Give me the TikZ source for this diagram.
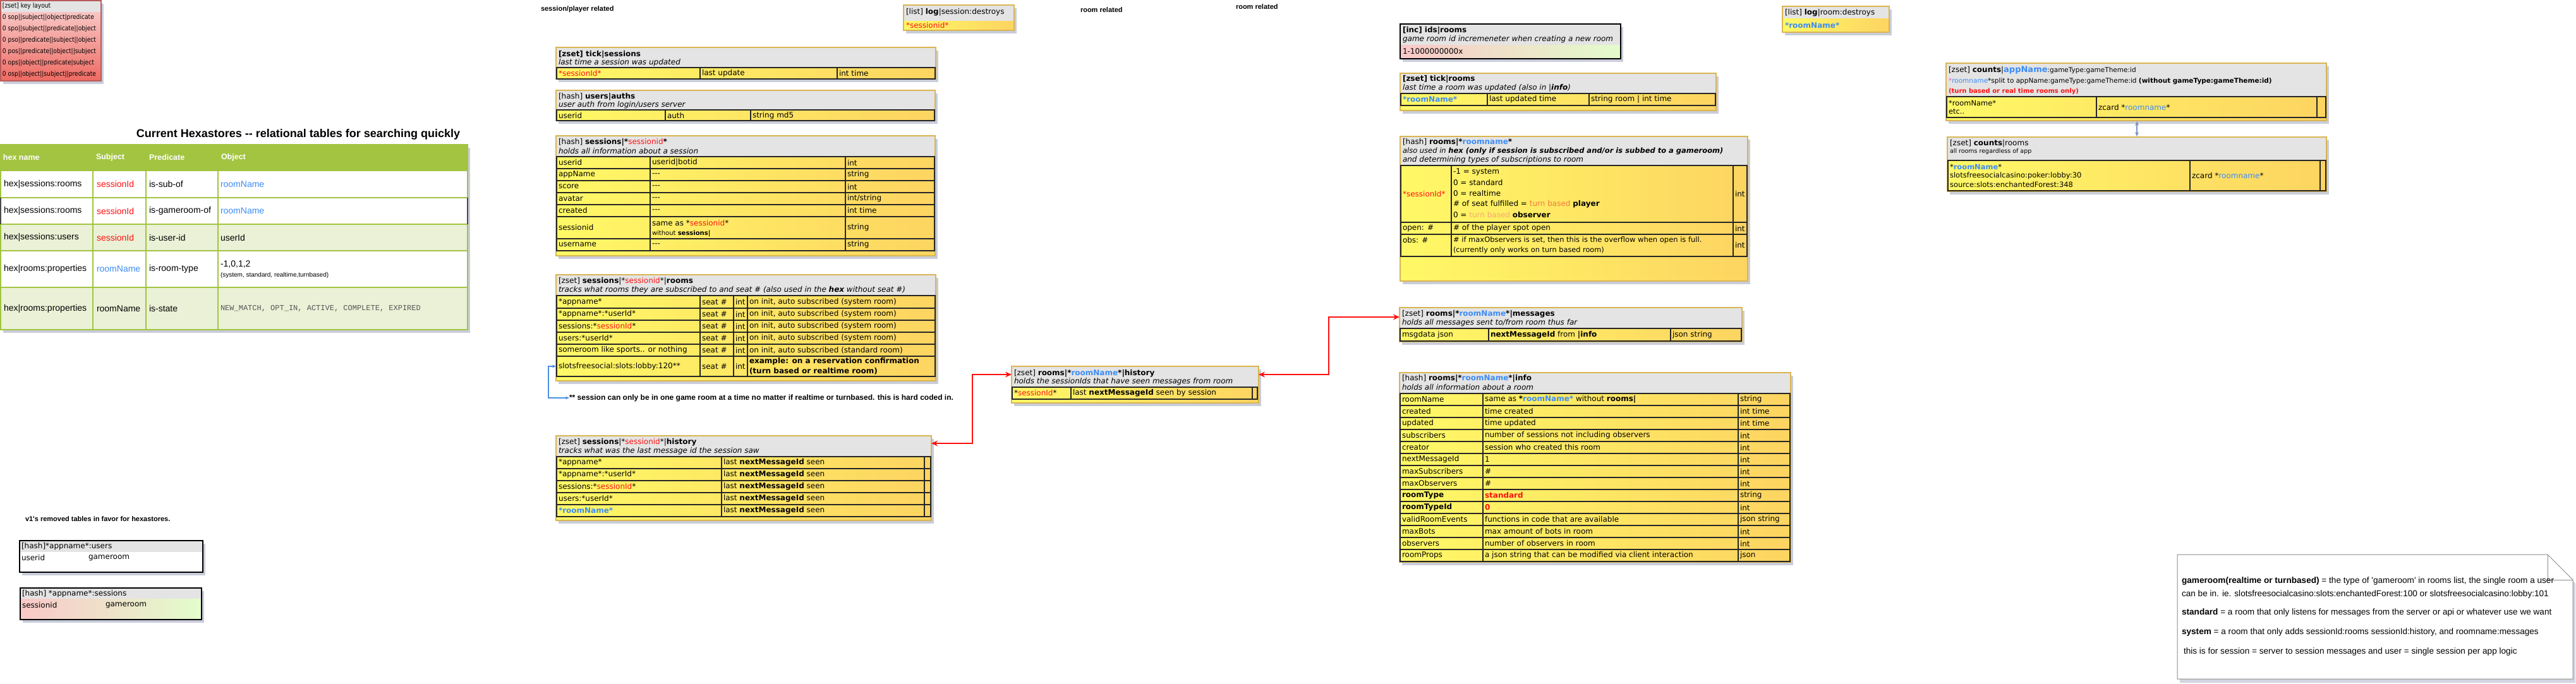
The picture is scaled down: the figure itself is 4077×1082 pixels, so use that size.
\documentclass[tikz,border=0pt]{standalone}
\usepackage{fontspec}
\usetikzlibrary{arrows.meta,shadows,calc}
\newfontfamily\dv{DejaVu Sans}
\newfontfamily\dvn[FakeStretch=0.88]{DejaVu Sans}
\newfontfamily\hv{Liberation Sans}
\newfontfamily\mono{Liberation Mono}
\newcommand\fsz[1]{\fontsize{#1}{#1}\selectfont}
\definecolor{hdr}{HTML}{E4E4E4}
\definecolor{ylA}{HTML}{FFF966}
\definecolor{ylB}{HTML}{FDD461}
\definecolor{gold}{HTML}{D9B552}
\definecolor{rd}{HTML}{FF1010}
\definecolor{bl}{HTML}{3C8CF6}
\definecolor{grn}{HTML}{A2C441}
\definecolor{grnL}{HTML}{EAF1D6}
\definecolor{shd}{HTML}{A6ACC2}
\definecolor{klA}{HTML}{F8C6C4}
\definecolor{klB}{HTML}{EE6A62}
\definecolor{klbd}{HTML}{B85A5A}
\definecolor{pkA}{HTML}{FAC8C8}
\definecolor{gnA}{HTML}{E2FDCB}
\definecolor{orgA}{HTML}{F47A3A}
\definecolor{orgB}{HTML}{F6A870}
\definecolor{pkC}{HTML}{F060C0}
\definecolor{blc}{HTML}{4A90E2}
\definecolor{gyc}{HTML}{7A92C2}
\definecolor{monoc}{HTML}{555555}
\tikzset{
  frame/.style={rectangle, draw=gold, fill=hdr, line width=1.5pt, inner sep=0pt, outer sep=0pt, anchor=north west,
    drop shadow={shadow xshift=4pt, shadow yshift=-5pt, fill=shd, opacity=0.6}},
  txt/.style={anchor=west, inner sep=0pt, outer sep=0pt, font=\dv\fsz{12}},
  klt/.style={anchor=west, inner sep=0pt, outer sep=0pt, font=\dvn\fsz{10.4}},
  hxc/.style={anchor=west, inner sep=0pt, outer sep=0pt, font=\hv\fsz{14}},
  hxh/.style={anchor=west, inner sep=0pt, outer sep=0pt, font=\hv\bfseries\fsz{12.5}, text=white},
  cg/.style={draw=black!85, line width=1.3pt},
  gl/.style={draw=grn, line width=1.5pt},
  lbl/.style={anchor=west, inner sep=0pt, outer sep=0pt, font=\hv\bfseries\fsz{11}},
  ntx/.style={anchor=west, inner sep=0pt, outer sep=0pt, font=\hv\fsz{13.6}},
  redc/.style={draw=rd, line width=1.6pt, {Stealth[length=10pt,width=9pt]}-{Stealth[length=10pt,width=9pt]}},
  bluec/.style={draw=blc, line width=1.2pt, {Stealth[length=6pt,width=5pt]}-{Stealth[length=6pt,width=5pt]}},
  grayc/.style={draw=gyc, line width=1.6pt, {Stealth[length=7pt,width=6pt]}-{Stealth[length=7pt,width=6pt]}}
}
\newcommand\cel[4][]{\node[txt,#1] (#2) at (#3) {#4};}
\newcommand\mkbox[6]{%
  \node[frame, minimum width={#4-#2}, minimum height={#5-#3}] (#1) at (#2,#3) {};
  \shade[left color=ylA, right color=ylB] (#2,#6) rectangle (#4,#5);
  \draw[gold, line width=1.5pt] (#2,#3) rectangle (#4,#5);
}
\begin{document}
\begin{tikzpicture}[x=1pt,y=-1pt]
\useasboundingbox (0,0) rectangle (4077,1082);
\fill[white] (0,0) rectangle (4077,1082);

% ---------- key layout ----------
\node[frame, draw=klbd, line width=1.2pt, minimum width=159, minimum height=127] (kl) at (1,1) {};
\shade[top color=klA, bottom color=klB] (1,19) rectangle (160,128);
\draw[klbd, line width=1.2pt] (1,1) rectangle (160,128);
\node[klt] (kl0) at (4,10) {[zset] key layout};
\node[klt] (kl1) at (4,28) {0 sop||subject||object|predicate};
\node[klt] (kl2) at (4,46) {0 spo||subject||predicate||object};
\node[klt] (kl3) at (4,64) {0 pso||predicate||subject||object};
\node[klt] (kl4) at (4,82) {0 pos||predicate||object||subject};
\node[klt] (kl5) at (4,100) {0 ops||object||predicate|subject};
\node[klt] (kl6) at (4,118) {0 osp||object||subject||predicate};

% ---------- hexastore table ----------
\node[anchor=center, inner sep=0pt, font=\hv\bfseries\fsz{18}] (hxt) at (472,213) {Current Hexastores -{}- relational tables for searching quickly};
\node[rectangle, draw=grn, fill=white, line width=2pt, inner sep=0pt, outer sep=0pt, anchor=north west,
  minimum width=739, minimum height=293, drop shadow={shadow xshift=4pt, shadow yshift=-5pt, fill=shd, opacity=0.6}] (hx) at (1,229) {};
\fill[grn] (1,229) rectangle (740,270);
\fill[grnL] (1,355) rectangle (740,397);
\fill[grnL] (1,455) rectangle (740,522);
\foreach \yy in {270,313,355,397,455} \draw[gl] (1,\yy) -- (740,\yy);
\foreach \xx in {147,231,345} \draw[gl] (\xx,229) -- (\xx,522);
\draw[grn, line width=2pt] (1,229) rectangle (740,522);
\draw[black!70, line width=1.3pt] (1,313) -- (1,355) (740,313) -- (740,355);
\node[hxh] (hh1) at (5,249.5) {hex name};
\node[hxh] (hh2) at (152,249.5) {Subject};
\node[hxh] (hh3) at (236,249.5) {Predicate};
\node[hxh] (hh4) at (350,249.5) {Object};
\node[hxc] (h11) at (6,291.5) {hex|sessions:rooms};
\node[hxc, text=rd] (h12) at (153,291.5) {sessionId};
\node[hxc] (h13) at (236,291.5) {is-sub-of};
\node[hxc, text=bl] (h14) at (349,291.5) {roomName};
\node[hxc] (h21) at (6,334) {hex|sessions:rooms};
\node[hxc, text=rd] (h22) at (153,334) {sessionId};
\node[hxc] (h23) at (236,334) {is-gameroom-of};
\node[hxc, text=bl] (h24) at (349,334) {roomName};
\node[hxc] (h31) at (6,376) {hex|sessions:users};
\node[hxc, text=rd] (h32) at (153,376) {sessionId};
\node[hxc] (h33) at (236,376) {is-user-id};
\node[hxc] (h34) at (349,376) {userId};
\node[hxc] (h41) at (6,426) {hex|rooms:properties};
\node[hxc, text=bl] (h42) at (153,426) {roomName};
\node[hxc] (h43) at (236,426) {is-room-type};
\node[hxc] (h44) at (349,419) {-1,0,1,2};
\node[hxc, font=\hv\fsz{10}] (h45) at (349,436) {(system, standard, realtime,turnbased)};
\node[hxc] (h51) at (6,488.5) {hex|rooms:properties};
\node[hxc] (h52) at (153,488.5) {roomName};
\node[hxc] (h53) at (236,488.5) {is-state};
\node[hxc, font=\mono\fsz{12}, text=monoc] (h54) at (349,488.5) {NEW\_MATCH, OPT\_IN, ACTIVE, COMPLETE, EXPIRED};

% ---------- labels ----------
\node[lbl] (lb1) at (856,15) {session/player related};
\node[lbl] (lb2) at (1710,16) {room related};
\node[lbl] (lb3) at (1956,11) {room related};

% ---------- log session destroys ----------
\mkbox{lS}{1430}{8}{1605}{48}{33}
\cel{lS1}{1434,19}{[list] \textbf{log}|session:destroys}
\cel{lS2}{1434,40}{\color{rd}*sessionid*}

% ---------- tick sessions ----------
\mkbox{tS}{880}{75}{1481}{125}{107}
\draw[cg] (881,107) rectangle (1480,125);
\draw[cg] (1108,107) -- (1108,125) (1325,107) -- (1325,125);
\cel{tS1}{884,86}{\bfseries [zset] tick|sessions}
\cel{tS2}{884,99}{\itshape last time a session was updated}
\cel{tS3}{884,116}{\color{rd}*sessionId*}
\cel{tS4}{1111,116}{last update}
\cel{tS5}{1328,116}{int time}

% ---------- users auths ----------
\mkbox{uA}{880}{143}{1480}{191}{174}
\draw[cg] (881,174) rectangle (1479,191);
\draw[cg] (1053,174) -- (1053,191) (1188,174) -- (1188,191);
\cel{uA1}{884,153}{[hash] \textbf{users|auths}}
\cel{uA2}{884,166}{\itshape user auth from login/users server}
\cel{uA3}{884,183}{userid}
\cel{uA4}{1056,183}{auth}
\cel{uA5}{1191,183}{string md5}

% ---------- sessions hash ----------
\mkbox{sH}{880}{215}{1480}{405}{248}
\draw[cg] (881,248) rectangle (1479,397);
\foreach \yy in {267,286,305,324,343,378} \draw[cg] (881,\yy) -- (1479,\yy);
\draw[cg] (1029,248) -- (1029,397) (1338,248) -- (1338,397);
\cel{sH1}{884,225}{[hash] \textbf{sessions|*}{\color{rd}sessionid}\textbf{*}}
\cel{sH2}{884,239}{\itshape holds all information about a session}
\cel{sHa1}{884,257.5}{userid}
\cel{sHa2}{1032,257.5}{userid|botid}
\cel{sHa3}{1341,257.5}{int}
\cel{sHb1}{884,276.5}{appName}
\cel{sHb2}{1032,276.5}{-{}-{}-}
\cel{sHb3}{1341,276.5}{string}
\cel{sHc1}{884,295.5}{score}
\cel{sHc2}{1032,295.5}{-{}-{}-}
\cel{sHc3}{1341,295.5}{int}
\cel{sHd1}{884,314.5}{avatar}
\cel{sHd2}{1032,314.5}{-{}-{}-}
\cel{sHd3}{1341,314.5}{int/string}
\cel{sHe1}{884,333.5}{created}
\cel{sHe2}{1032,333.5}{-{}-{}-}
\cel{sHe3}{1341,333.5}{int time}
\cel{sHf1}{884,360.5}{sessionid}
\cel{sHf2}{1032,353}{same as *{\color{rd}sessionid}*}
\cel[font=\dv\fsz{10}]{sHf3}{1032,370}{without \textbf{sessions|}}
\cel{sHf4}{1341,360.5}{string}
\cel{sHg1}{884,387.5}{username}
\cel{sHg2}{1032,387.5}{-{}-{}-}
\cel{sHg3}{1341,387.5}{string}

% ---------- sessions rooms ----------
\mkbox{sR}{880}{435}{1481}{603}{468}
\draw[cg] (881,468) rectangle (1480,596);
\foreach \yy in {488,507,526,545,564} \draw[cg] (881,\yy) -- (1480,\yy);
\draw[cg] (1108,468) -- (1108,596) (1161,468) -- (1161,596) (1183,468) -- (1183,596);
\cel{sR1}{884,445}{[zset] \textbf{sessions}|*{\color{rd}sessionid}*|\textbf{rooms}}
\cel{sR2}{884,459}{\itshape tracks what rooms they are subscribed to and seat \# (also used in the \textbf{hex} without seat \#)}
\cel{sRa1}{884,478}{*appname*}
\cel{sRa2}{1111,478}{seat \#}
\cel{sRa3}{1164,478}{int}
\cel{sRa4}{1186,478}{on init, auto subscribed (system room)}
\cel{sRb1}{884,497.5}{*appname*:*userId*}
\cel{sRb2}{1111,497.5}{seat \#}
\cel{sRb3}{1164,497.5}{int}
\cel{sRb4}{1186,497.5}{on init, auto subscribed (system room)}
\cel{sRc1}{884,516.5}{sessions:*{\color{rd}sessionId}*}
\cel{sRc2}{1111,516.5}{seat \#}
\cel{sRc3}{1164,516.5}{int}
\cel{sRc4}{1186,516.5}{on init, auto subscribed (system room)}
\cel{sRd1}{884,535.5}{users:*userId*}
\cel{sRd2}{1111,535.5}{seat \#}
\cel{sRd3}{1164,535.5}{int}
\cel{sRd4}{1186,535.5}{on init, auto subscribed (system room)}
\cel{sRe1}{884,554.5}{someroom like sports.. or nothing}
\cel{sRe2}{1111,554.5}{seat \#}
\cel{sRe3}{1164,554.5}{int}
\cel{sRe4}{1186,554.5}{on init, auto subscribed (standard room)}
\cel{sRf1}{884,580}{slotsfreesocial:slots:lobby:120**}
\cel{sRf2}{1111,580}{seat \#}
\cel{sRf3}{1164,580}{int}
\cel{sRf4}{1186,572}{\bfseries example: on a reservation confirmation}
\cel{sRf5}{1186,588}{\bfseries (turn based or realtime room)}

% note + blue connector
\node[lbl, font=\hv\bfseries\fsz{12}] (nt) at (901,630) {** session can only be in one game room at a time no matter if realtime or turnbased. this is hard coded in.};
\draw[bluec] (nt.west) -- ++(-33,0) |- ($(sR.south west)+(0,-23)$);

% ---------- sessions history ----------
\mkbox{hS}{880}{690}{1474}{824}{723}
\draw[cg] (881,723) rectangle (1473,818);
\foreach \yy in {742,761,780,799} \draw[cg] (881,\yy) -- (1473,\yy);
\draw[cg] (1142,723) -- (1142,818) (1463,723) -- (1463,818);
\cel{hS1}{884,700}{[zset] \textbf{sessions}|*{\color{rd}sessionid}*|\textbf{history}}
\cel{hS2}{884,714}{\itshape tracks what was the last message id the session saw}
\cel{hSa1}{884,732.5}{*appname*}
\cel{hSa2}{1145,732.5}{last \textbf{nextMessageId} seen}
\cel{hSb1}{884,751.5}{*appname*:*userId*}
\cel{hSb2}{1145,751.5}{last \textbf{nextMessageId} seen}
\cel{hSc1}{884,770.5}{sessions:*{\color{rd}sessionId}*}
\cel{hSc2}{1145,770.5}{last \textbf{nextMessageId} seen}
\cel{hSd1}{884,789.5}{users:*userId*}
\cel{hSd2}{1145,789.5}{last \textbf{nextMessageId} seen}
\cel{hSe1}{884,808.5}{\color{bl}\bfseries *roomName*}
\cel{hSe2}{1145,808.5}{last \textbf{nextMessageId} seen}

% ---------- rooms history ----------
\mkbox{rH}{1601}{580}{1992}{638}{613}
\draw[cg] (1602,613) rectangle (1990,632);
\draw[cg] (1695,613) -- (1695,632) (1982,613) -- (1982,632);
\cel{rH1}{1605,591}{[zset] \textbf{rooms|*}{\color{bl}\bfseries roomName}\textbf{*|history}}
\cel{rH2}{1605,604}{\itshape holds the sessionIds that have seen messages from room}
\cel{rH3}{1605,622.5}{*{\color{rd}sessionId}*}
\cel{rH4}{1698,622.5}{last \textbf{nextMessageId} seen by session}

% ---------- ids rooms ----------
\node[frame, draw=black, minimum width=349, minimum height=55] (iR) at (2216,38) {};
\shade[left color=pkA, right color=gnA] (2216,71) rectangle (2565,93);
\draw[black, line width=1.5pt] (2216,38) rectangle (2565,93);
\cel{iR1}{2220,48}{\bfseries [inc] ids|rooms}
\cel{iR2}{2220,62}{\itshape game room id incremeneter when creating a new room}
\cel{iR3}{2220,81}{1-1000000000x}

% ---------- tick rooms ----------
\mkbox{tR}{2216}{116}{2716}{175}{148}
\draw[cg] (2217,148) rectangle (2715,167);
\draw[cg] (2354,148) -- (2354,167) (2515,148) -- (2515,167);
\cel{tR1}{2220,125}{\bfseries [zset] tick|rooms}
\cel{tR2}{2220,139}{\itshape last time a room was updated (also in |\textbf{info})}
\cel{tR3}{2220,157.5}{\color{bl}\bfseries *roomName*}
\cel{tR4}{2357,157.5}{last updated time}
\cel{tR5}{2518,157.5}{string room | int time}

% ---------- log room destroys ----------
\mkbox{lR}{2821}{10}{2990}{51}{29}
\cel{lR1}{2825,20}{[list] \textbf{log}|room:destroys}
\cel{lR2}{2825,40}{\color{bl}\bfseries *roomName*}

% ---------- rooms hash ----------
\mkbox{rh}{2216}{216}{2766}{445}{262}
\draw[cg] (2217,262) rectangle (2765,406);
\draw[cg] (2217,352) -- (2765,352) (2217,371) -- (2765,371);
\draw[cg] (2297,262) -- (2297,406) (2743,262) -- (2743,406);
\cel{rh1}{2220,225}{[hash] \textbf{rooms|*}{\color{bl}\bfseries roomname}\textbf{*}}
\cel[font=\dv\fsz{11.5}]{rh2}{2220,239}{\itshape also used in \textbf{hex (only if session is subscribed and/or is subbed to a gameroom)}}
\cel{rh3}{2220,253}{\itshape and determining types of subscriptions to room}
\cel{rh4}{2220,307}{\color{rd}*sessionId*}
\cel{rh5}{2300,272}{-1 = system}
\cel{rh6}{2300,289}{0 = standard}
\cel{rh7}{2300,306}{0 = realtime}
\cel{rh8}{2300,323}{\# of seat fulfilled = {\color{orgA}turn based} \textbf{player}}
\cel{rh9}{2300,340}{0 = {\color{orgB}turn based} \textbf{observer}}
\cel{rh10}{2746,307}{int}
\cel{rh11}{2220,361.5}{open: \#}
\cel{rh12}{2300,361.5}{\# of the player spot open}
\cel{rh13}{2746,361.5}{int}
\cel{rh14}{2220,380}{obs: \#}
\cel[font=\dv\fsz{11.5}]{rh15}{2300,380}{\# if maxObservers is set, then this is the overflow when open is full.}
\cel[font=\dv\fsz{11.3}]{rh16}{2300,396}{(currently only works on turn based room)}
\cel{rh17}{2746,388}{int}

% ---------- rooms messages ----------
\mkbox{rM}{2215}{487}{2757}{541}{520}
\draw[cg] (2216,520) rectangle (2756,540);
\draw[cg] (2356,520) -- (2356,540) (2644,520) -- (2644,540);
\cel{rM1}{2219,497}{[zset] \textbf{rooms|*}{\color{bl}\bfseries roomName}\textbf{*|messages}}
\cel{rM2}{2219,511}{\itshape holds all messages sent to/from room thus far}
\cel{rM3}{2219,530}{msgdata json}
\cel{rM4}{2359,530}{\textbf{nextMessageId} from \textbf{|info}}
\cel{rM5}{2647,530}{json string}

% red connectors
\draw[redc] ($(hS.north east)+(0,12)$) -- ++(65,0) |- ($(rH.north west)+(0,13)$);
\draw[redc] ($(rH.north east)+(0,13)$) -- ++(111,0) |- ($(rM.north west)+(0,15)$);

% ---------- rooms info ----------
\mkbox{rI}{2215}{590}{2834}{890}{623}
\draw[cg] (2216,623) rectangle (2833,889);
\foreach \yy in {642,661,680,699,718,737,756,775,794,813,832,851,870} \draw[cg] (2216,\yy) -- (2833,\yy);
\draw[cg] (2347,623) -- (2347,889) (2751,623) -- (2751,889);
\cel{rI1}{2219,599}{[hash] \textbf{rooms|*}{\color{bl}\bfseries roomName}\textbf{*|info}}
\cel{rI2}{2219,613}{\itshape holds all information about a room}
\cel{rIa1}{2219,632.5}{roomName}
\cel{rIa2}{2350,632.5}{same as \textbf{*}{\color{bl}\bfseries roomName*} without \textbf{rooms|}}
\cel{rIa3}{2754,632.5}{string}
\cel{rIb1}{2219,651.5}{created}
\cel{rIb2}{2350,651.5}{time created}
\cel{rIb3}{2754,651.5}{int time}
\cel{rIc1}{2219,670.5}{updated}
\cel{rIc2}{2350,670.5}{time updated}
\cel{rIc3}{2754,670.5}{int time}
\cel{rId1}{2219,689.5}{subscribers}
\cel{rId2}{2350,689.5}{number of sessions not including observers}
\cel{rId3}{2754,689.5}{int}
\cel{rIe1}{2219,708.5}{creator}
\cel{rIe2}{2350,708.5}{session who created this room}
\cel{rIe3}{2754,708.5}{int}
\cel{rIf1}{2219,727.5}{nextMessageId}
\cel{rIf2}{2350,727.5}{1}
\cel{rIf3}{2754,727.5}{int}
\cel{rIg1}{2219,746.5}{maxSubscribers}
\cel{rIg2}{2350,746.5}{\#}
\cel{rIg3}{2754,746.5}{int}
\cel{rIh1}{2219,765.5}{maxObservers}
\cel{rIh2}{2350,765.5}{\#}
\cel{rIh3}{2754,765.5}{int}
\cel{rIi1}{2219,784.5}{\bfseries roomType}
\cel{rIi2}{2350,784.5}{\color{rd}\bfseries standard}
\cel{rIi3}{2754,784.5}{string}
\cel{rIj1}{2219,803.5}{\bfseries roomTypeId}
\cel{rIj2}{2350,803.5}{\color{rd}\bfseries 0}
\cel{rIj3}{2754,803.5}{int}
\cel{rIk1}{2219,822.5}{validRoomEvents}
\cel{rIk2}{2350,822.5}{functions in code that are available}
\cel{rIk3}{2754,822.5}{json string}
\cel{rIl1}{2219,841.5}{maxBots}
\cel{rIl2}{2350,841.5}{max amount of bots in room}
\cel{rIl3}{2754,841.5}{int}
\cel{rIm1}{2219,860.5}{observers}
\cel{rIm2}{2350,860.5}{number of observers in room}
\cel{rIm3}{2754,860.5}{int}
\cel{rIn1}{2219,879.5}{roomProps}
\cel{rIn2}{2350,879.5}{a json string that can be modified via client interaction}
\cel{rIn3}{2754,879.5}{json}

% ---------- counts appName ----------
\mkbox{cA}{3080}{100}{3682}{191}{153}
\draw[cg] (3081,153) rectangle (3681,186);
\draw[cg] (3318,153) -- (3318,186) (3667,153) -- (3667,186);
\cel{cA1}{3084,111}{[zset] \textbf{counts}|{\color{bl}\bfseries\fsz{13}appName}{\fsz{10.5}:gameType:gameTheme:id}}
\cel[font=\dv\fsz{10.5}]{cA2}{3084,129}{{\color{pkC}*}{\color{bl}roomname}*split to appName:gameType:gameTheme:id \textbf{(without gameType:gameTheme:id)}}
\cel[font=\dv\fsz{10}]{cA3}{3084,145}{\color{rd}\bfseries (turn based or real time rooms only)}
\cel[font=\dv\fsz{11.5}]{cA4}{3084,163}{*roomName*}
\cel[font=\dv\fsz{11.5}]{cA5}{3084,177}{etc..}
\cel{cA6}{3321,170}{zcard *{\color{bl}roomname}*}

% ---------- counts rooms ----------
\mkbox{cR}{3082}{217}{3682}{303}{254}
\draw[cg] (3083,254) rectangle (3681,302);
\draw[cg] (3466,254) -- (3466,302) (3672,254) -- (3672,302);
\cel{cR1}{3086,227}{[zset] \textbf{counts}|rooms}
\cel[font=\dv\fsz{9.5}]{cR2}{3086,240}{all rooms regardless of app}
\cel[font=\dv\fsz{11.5}]{cR3}{3086,264}{*{\color{bl}\bfseries roomName}*}
\cel[font=\dv\fsz{11.5}]{cR4}{3086,278}{slotsfreesocialcasino:poker:lobby:30}
\cel[font=\dv\fsz{11.5}]{cR5}{3086,292}{source:slots:enchantedForest:348}
\cel{cR6}{3469,278}{zcard *{\color{bl}roomname}*}
\draw[grayc] ($(cA.south west)+(302,1)$) -- ($(cR.north west)+(300,-1)$);

% ---------- v1 removed tables ----------
\node[lbl] (v1) at (40,822) {v1's removed tables in favor for hexastores.};
\node[frame, draw=black, line width=1.2pt, minimum width=290, minimum height=50] (b1) at (31,856) {};
\fill[white] (31,874) rectangle (321,906);
\draw[black, line width=1.2pt] (31,856) rectangle (321,906);
\cel{b1a}{34,865}{[hash]*appname*:users}
\cel{b1b}{34,883}{userid}
\cel{b1c}{140,883}{gameroom}
\node[frame, draw=black, line width=1.2pt, minimum width=287, minimum height=50] (b2) at (32,931) {};
\shade[left color=pkA, right color=gnA] (32,948) rectangle (319,981);
\draw[black, line width=1.2pt] (32,931) rectangle (319,981);
\cel{b2a}{35,940}{[hash] *appname*:sessions}
\cel{b2b}{35,958}{sessionid}
\cel{b2c}{167,958}{gameroom}

% ---------- bottom-right note ----------
\fill[shd, opacity=0.5] (3450,884) -- (4036,884) -- (4076,924) -- (4076,1081) -- (3450,1081) -- cycle;
\filldraw[fill=white, draw=black!45, line width=1pt] (3446,878) -- (4032,878) -- (4072,918) -- (4072,1075) -- (3446,1075) -- cycle;
\draw[black!45, line width=1pt] (4032,878) -- (4032,918) -- (4072,918);
\node[ntx] (n1) at (3453,920) {\textbf{gameroom(realtime or turnbased)} = the type of 'gameroom' in rooms list, the single room a user};
\node[ntx] (n2) at (3453,941) {can be in. ie. slotsfreesocialcasino:slots:enchantedForest:100 or slotsfreesocialcasino:lobby:101};
\node[ntx] (n3) at (3453,970) {\textbf{standard} = a room that only listens for messages from the server or api or whatever use we want};
\node[ntx] (n4) at (3453,1001) {\textbf{system} = a room that only adds sessionId:rooms sessionId:history, and roomname:messages};
\node[ntx] (n5) at (3456,1032) {this is for session = server to session messages and user = single session per app logic};
\end{tikzpicture}
\end{document}
